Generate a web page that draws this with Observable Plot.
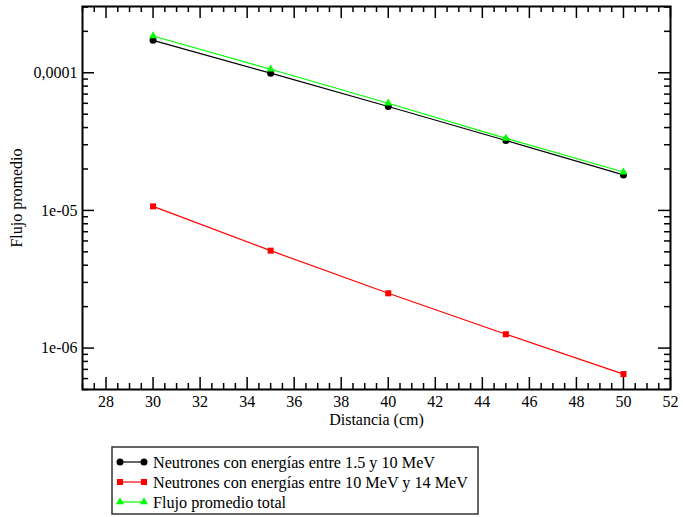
<!DOCTYPE html>
<html><head><meta charset="utf-8">
<script src="https://cdn.jsdelivr.net/npm/d3@7"></script>
<script src="https://cdn.jsdelivr.net/npm/@observablehq/plot@0.6"></script>
<style>
body{margin:0;background:#fff;font-family:"Liberation Serif",serif;}
#chart{position:absolute;left:0;top:0;}
#legend{position:absolute;left:111px;top:446px;}
svg text{font-family:"Liberation Serif",serif !important;}
</style></head><body>
<div id="chart"></div>
<div id="legend"></div>
<script>
const distances = [30, 35, 40, 45, 50];
const fluxLow = [1.72e-4, 9.93e-5, 5.69e-5, 3.22e-5, 1.81e-5];
const fluxHigh = [1.07e-5, 5.10e-6, 2.50e-6, 1.26e-6, 6.47e-7];
const fluxTotal = [1.85e-4, 1.06e-4, 6.01e-5, 3.34e-5, 1.90e-5];
const seriesNames = [
  "Neutrones con energías entre 1.5 y 10 MeV",
  "Neutrones con energías entre 10 MeV y 14 MeV",
  "Flujo promedio total"
];
const seriesColors = ["#000000", "#ff0000", "#00ff00"];
const seriesSymbols = ["circle", "square", "triangle"];
const xMajorTicks = [28, 30, 32, 34, 36, 38, 40, 42, 44, 46, 48, 50, 52];
const yMajorTicks = [1e-4, 1e-5, 1e-6];
const yTickLabels = ["0,0001", "1e-05", "1e-06"];

const seriesValues = [fluxLow, fluxHigh, fluxTotal];
const data = seriesValues.flatMap((vals, i) =>
  distances.map((d, j) => ({series: seriesNames[i], x: d, y: vals[j]})));

const xMinorTicks = d3.range(27, 52.01, 0.5).filter(v => !xMajorTicks.includes(v));
const yDomain = [5e-7, 3.03e-4];
const yMinorTicks = [];
for (const dec of [1e-7, 1e-6, 1e-5, 1e-4]) for (let m = 2; m <= 9; m++) {
  const v = m * dec; if (v >= yDomain[0] && v <= yDomain[1]) yMinorTicks.push(v);
}

const W = 683, H = 430, mL = 82, mR = 13, mT = 6, mB = 41;
const iw = W - mL - mR, ih = H - mT - mB;
const tickStyle = {stroke: "#000", strokeWidth: 1.5};
const fontFamily = "Liberation Serif";

const marks = [
  Plot.axisX({ticks: xMajorTicks, tickSize: 0, tickPadding: 6, fontSize: 16, fontFamily,
    label: "Distancia (cm)", labelAnchor: "center", labelArrow: "none", labelOffset: 35}),
  Plot.axisY({ticks: yMajorTicks, tickSize: 0, tickPadding: 5, fontSize: 16, fontFamily,
    tickFormat: d => yTickLabels[yMajorTicks.indexOf(d)],
    label: "Flujo promedio", labelAnchor: "center", labelArrow: "none", labelOffset: 72}),
  Plot.ruleX(xMajorTicks, {...tickStyle, insetTop: ih - 12}),
  Plot.ruleX(xMajorTicks, {...tickStyle, insetBottom: ih - 12}),
  Plot.ruleX(xMinorTicks, {...tickStyle, insetTop: ih - 6}),
  Plot.ruleX(xMinorTicks, {...tickStyle, insetBottom: ih - 6}),
  Plot.ruleY(yMajorTicks, {...tickStyle, insetRight: iw - 12}),
  Plot.ruleY(yMajorTicks, {...tickStyle, insetLeft: iw - 12}),
  Plot.ruleY(yMinorTicks, {...tickStyle, insetRight: iw - 6}),
  Plot.ruleY(yMinorTicks, {...tickStyle, insetLeft: iw - 6}),
  Plot.frame({stroke: "#000", strokeWidth: 2})
];
const symR = [3.5, 3.4, 3.0];
seriesNames.forEach((name, i) => {
  const sd = data.filter(d => d.series === name);
  marks.push(Plot.line(sd, {x: "x", y: "y", stroke: seriesColors[i], strokeWidth: 1.2}));
  marks.push(Plot.dot(sd, {x: "x", y: "y", fill: seriesColors[i], stroke: "none", symbol: seriesSymbols[i], r: symR[i]}));
});

const chart = Plot.plot({
  width: W, height: H, marginLeft: mL, marginRight: mR, marginTop: mT, marginBottom: mB,
  style: {fontFamily, fontSize: "16px", color: "#000", background: "#fff"},
  x: {domain: [27, 52]},
  y: {type: "log", domain: yDomain},
  marks
});
document.getElementById("chart").appendChild(chart);

// Legend
const lg = d3.select("#legend").append("svg").attr("width", 370).attr("height", 71);
lg.append("rect").attr("x", 1).attr("y", 1).attr("width", 366).attr("height", 67)
  .attr("fill", "#fff").attr("stroke", "#333").attr("stroke-width", 1.5);
seriesNames.forEach((name, i) => {
  const cy = 16 + i * 20;
  const g = lg.append("g");
  g.append("line").attr("x1", 9).attr("x2", 33).attr("y1", cy).attr("y2", cy)
    .attr("stroke", seriesColors[i]).attr("stroke-width", 1.2);
  [9, 33].forEach(cx => {
    const sym = d3.symbol().type(seriesSymbols[i] === "circle" ? d3.symbolCircle :
      seriesSymbols[i] === "square" ? d3.symbolSquare : d3.symbolTriangle)
      .size(Math.PI * symR[i] * symR[i]);
    g.append("path").attr("d", sym()).attr("transform", `translate(${cx},${cy})`)
      .attr("fill", seriesColors[i]);
  });
  g.append("text").attr("x", 42).attr("y", cy).attr("dy", "0.35em")
    .attr("font-family", fontFamily).attr("font-size", 16.2).attr("fill", "#000").text(name);
});
</script>
</body></html>
